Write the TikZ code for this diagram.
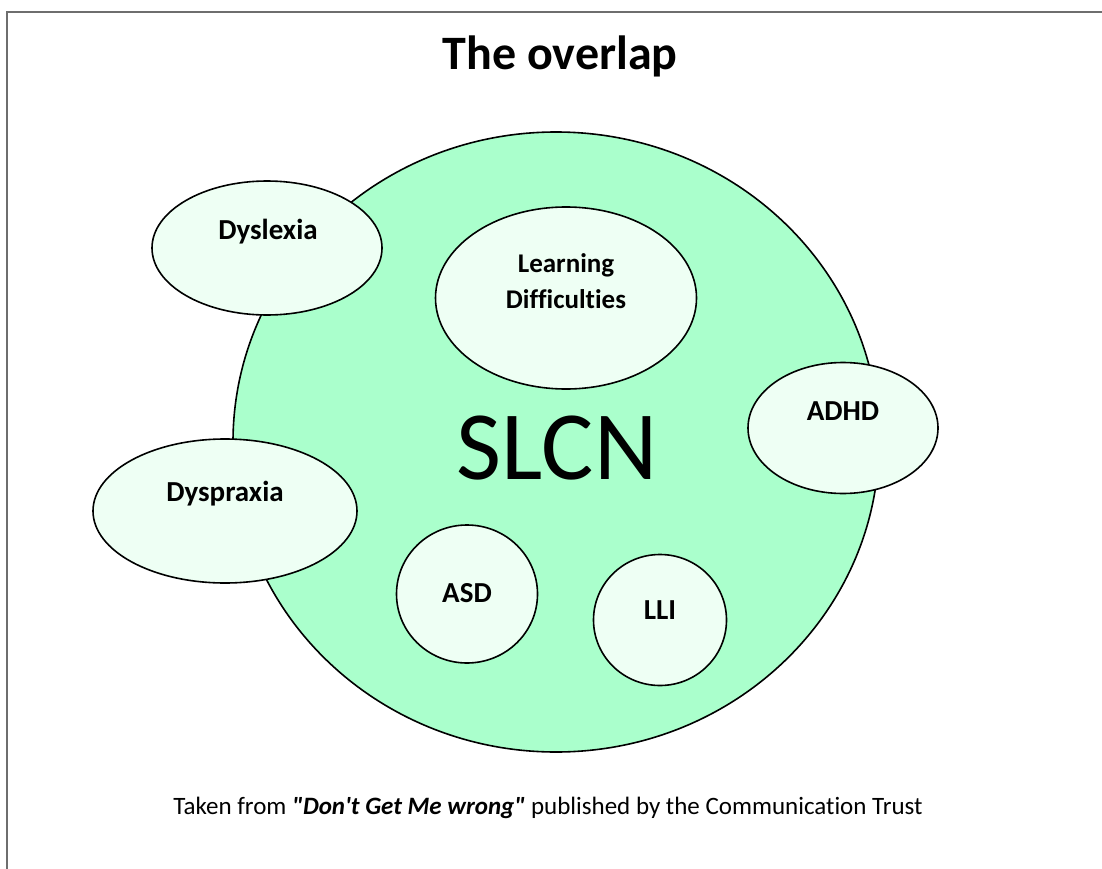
\documentclass[tikz,border=0pt]{standalone}
\usepackage{fontspec}
\setmainfont{Carlito}[Ligatures={TeXOff,NoCommon}]
\usetikzlibrary{shapes.geometric}
\definecolor{bigfill}{HTML}{AAFFCC}
\definecolor{smallfill}{HTML}{EEFFF4}
\definecolor{framegray}{HTML}{6E6E6E}
\tikzset{
  blob/.style={ellipse, draw=black, line width=1.6pt, fill=smallfill, inner sep=0pt},
  bigblob/.style={ellipse, draw=black, line width=1.6pt, fill=bigfill, inner sep=0pt},
  lbl/.style={font=\fontsize{29}{36}\selectfont\bfseries, align=center, inner sep=0pt},
  ldlbl/.style={font=\fontsize{27}{36}\selectfont\bfseries, align=center, inner sep=0pt},
}
\begin{document}
\begin{tikzpicture}[x=1pt,y=-1pt]
\useasboundingbox (0,0) rectangle (1102,869);
\fill[white] (0,0) rectangle (1102,869);
\coordinate (ftl) at (7,12);
\coordinate (ftr) at (1102,12);
\coordinate (fbl) at (7,869);
\draw[framegray, line width=2pt] (fbl) -- (ftl) -- (ftr);

\node[font=\fontsize{48}{52}\selectfont\bfseries, inner sep=0pt] (title) at (560,56) {The overlap};

\node[bigblob, minimum width=646pt, minimum height=620pt] (slcnc) at (556,442) {};
\node[font=\fontsize{98}{100}\selectfont, inner sep=0pt] (slcn) at (557,448) {SLCN};

\node[blob, minimum width=230pt, minimum height=134pt] (dysl) at (267,248) {};
\node[lbl] (dysll) at (268,232) {Dyslexia};

\node[blob, minimum width=261pt, minimum height=182pt] (ld) at (566,298) {};
\node[ldlbl] (ldl) at (566,281) {Learning\\Difficulties};

\node[blob, minimum width=190pt, minimum height=131pt] (adhd) at (843,428) {};
\node[lbl] (adhdl) at (843,411) {ADHD};

\node[blob, minimum width=264pt, minimum height=144pt] (dysp) at (225,511) {};
\node[lbl] (dyspl) at (225,494) {Dyspraxia};

\node[blob, minimum width=141pt, minimum height=138pt] (asd) at (467,594) {};
\node[lbl] (asdl) at (467,593) {ASD};

\node[blob, minimum width=133pt, minimum height=131pt] (lli) at (660,620) {};
\node[lbl] (llil) at (660,610) {LLI};

\node[font=\fontsize{25}{28}\selectfont, inner sep=0pt] (foot) at (548,808) {Taken from \textbf{\textit{"Don't Get Me wrong"}} published by the Communication Trust};
\end{tikzpicture}
\end{document}
